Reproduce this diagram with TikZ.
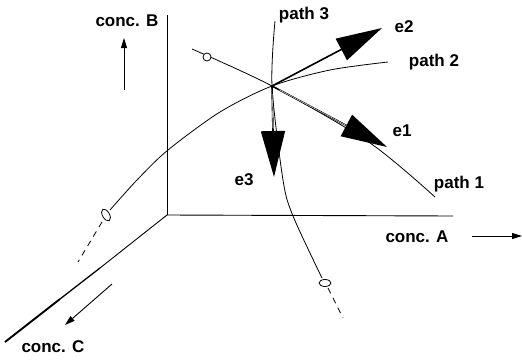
\documentclass[tikz,border=0pt]{standalone}
\usepackage{fontspec}
\setmainfont{Liberation Sans}
\usetikzlibrary{arrows.meta, calc}

\tikzset{
  lbl/.style={font=\fontsize{17}{20}\selectfont\bfseries, inner sep=0pt},
  curve/.style={line width=0.8pt},
  tail/.style={line width=0.8pt, dash pattern=on 6pt off 5pt},
  axis/.style={line width=0.9pt},
  dirarrow/.style={line width=0.9pt, -{Triangle[length=10pt,width=6pt]}},
  eigvec/.style={line width=1.6pt, -{Triangle[length=46pt,width=24pt]}},
  marker/.style={line width=0.8pt, fill=white},
}

\begin{document}
\begin{tikzpicture}[x=1pt,y=-1pt]
  \useasboundingbox (0,0) rectangle (522,359);

  % axes
  \coordinate (O) at (167,215);
  \coordinate (Aend) at (453,216);
  \coordinate (Bend) at (167,15);
  \coordinate (C1) at (100,268);
  \coordinate (C2) at (60,299);
  \coordinate (Cend) at (5,342);
  \draw[axis] (O) -- (Aend);
  \draw[axis] (O) -- (Bend);
  \draw[axis] (O) -- (C1);
  \draw[line width=1.3pt] (C1) -- (C2);
  \draw[line width=1.9pt] (C2) -- (Cend);

  % axis labels and directions
  \node[lbl] (lblB) at (127,21) {conc. B};
  \node[lbl] (lblA) at (417,237) {conc. A};
  \node[lbl] (lblC) at (53,347) {conc. C};
  \coordinate (Bfrom) at (124,90);
  \coordinate (Bto) at (124,38);
  \coordinate (Afrom) at (472,236);
  \coordinate (Ato) at (522,236);
  \coordinate (Cfrom) at (112,284);
  \coordinate (Cto) at (65,325);
  \draw[dirarrow] (Bfrom) -- (Bto);
  \draw[dirarrow] (Afrom) -- (Ato);
  \draw[dirarrow] (Cfrom) -- (Cto);

  % paths through the point
  \coordinate (x0) at (272,86);
  \coordinate (p1s) at (192,49);
  \coordinate (p1m) at (370,143);
  \coordinate (p1e) at (435,197);
  \draw[curve] plot[smooth] coordinates {(p1s) (x0) (p1m) (p1e)};
  \draw[marker] (207,57) circle[radius=4];

  \coordinate (p2s) at (110,210);
  \coordinate (p2e) at (388,62);
  \draw[curve] plot[smooth] coordinates {(p2s) (137,180) (168,150) (220,112) (x0) (330,70) (p2e)};
  \draw[marker, rotate around={30:(106,215)}] (106,215) ellipse[x radius=3.5, y radius=6.5];
  \draw[tail] (102,222) -- (78,262);

  \coordinate (p3s) at (275,21);
  \coordinate (p3e) at (322,278);
  \draw[curve] plot[smooth] coordinates {(p3s) (x0) (283,180) (293,216) (p3e)};
  \draw[marker] (325,283) ellipse[x radius=6, y radius=3.5];
  \draw[tail] (328,288) -- (343,318);

  % eigenvectors
  \coordinate (e1tip) at (387,147);
  \coordinate (e2tip) at (382,28);
  \coordinate (e3tip) at (274,177);
  \draw[eigvec] (x0) -- (e1tip);
  \draw[eigvec] (x0) -- (e2tip);
  \draw[eigvec] (x0) -- (e3tip);
  \draw[white, line width=0.4pt, shorten <=8pt, shorten >=46pt] (x0) -- (e1tip);
  \draw[white, line width=0.4pt, shorten <=8pt, shorten >=49pt] (x0) -- (e3tip);

  % path and vector labels
  \node[lbl] (lblP3) at (304,15) {path 3};
  \node[lbl] (lblE2) at (404,27) {e2};
  \node[lbl] (lblP2) at (434,62) {path 2};
  \node[lbl] (lblE1) at (402,131) {e1};
  \node[lbl] (lblP1) at (459,184) {path 1};
  \node[lbl] (lblE3) at (244,180) {e3};
\end{tikzpicture}
\end{document}
